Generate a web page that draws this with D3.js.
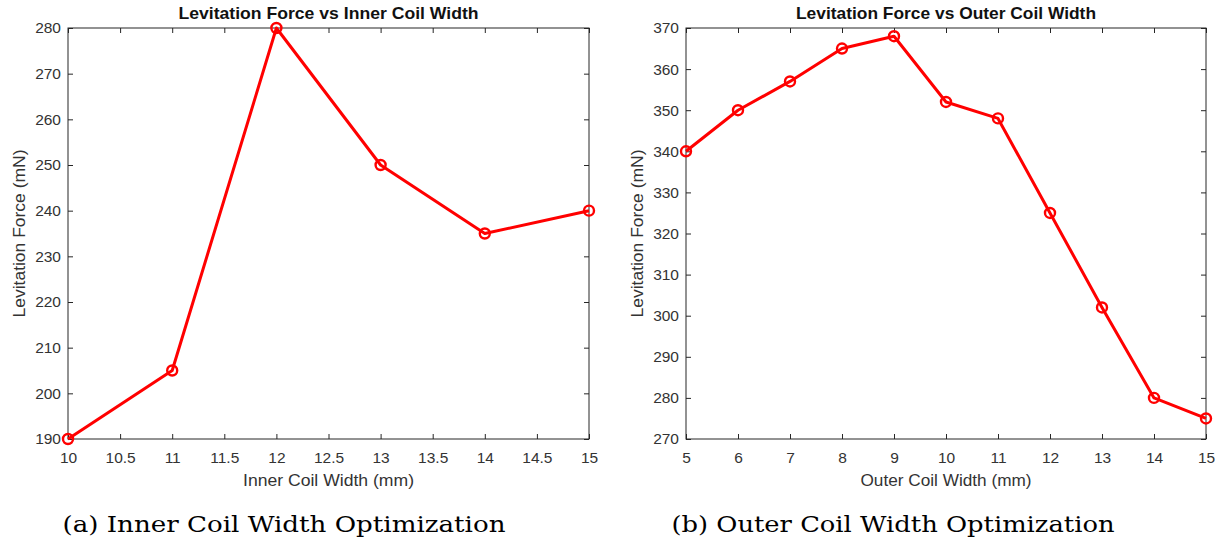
<!DOCTYPE html>
<html>
<head>
<meta charset="UTF-8">
<script src="https://d3js.org/d3.v7.min.js"></script>
<style>
  body { margin: 0; background: #fff; }
  svg { display: block; }
  .tick text { font-family: "Liberation Sans", Arial, sans-serif; font-size: 15.5px; fill: #333; }
  .lbl { font-family: "Liberation Sans", Arial, sans-serif; font-size: 16px; fill: #333; }
  .ttl { font-family: "Liberation Sans", Arial, sans-serif; font-size: 17px; font-weight: bold; fill: #111; }
  .cap { font-family: "DejaVu Serif", "Liberation Serif", serif; font-size: 21.5px; fill: #000; }
</style>
</head>
<body>
<svg id="chart" width="1225" height="547"></svg>
<script>
// inner coil sweep
const innerWidth = [10, 11, 12, 13, 14, 15];
const innerForce = [190, 205, 280, 250, 235, 240];
const innerXTicks = [10, 10.5, 11, 11.5, 12, 12.5, 13, 13.5, 14, 14.5, 15];
const innerYTicks = [190, 200, 210, 220, 230, 240, 250, 260, 270, 280];

// outer coil sweep
const outerWidth = [5, 6, 7, 8, 9, 10, 11, 12, 13, 14, 15];
const outerForce = [340, 350, 357, 365, 368, 352, 348, 325, 302, 280, 275];
const outerXTicks = [5, 6, 7, 8, 9, 10, 11, 12, 13, 14, 15];
const outerYTicks = [270, 280, 290, 300, 310, 320, 330, 340, 350, 360, 370];

const svg = d3.select("#chart");

function panel(opt) {
  const g = svg.append("g");
  const x = d3.scaleLinear().domain(opt.xDomain).range([opt.left, opt.right]);
  const y = d3.scaleLinear().domain(opt.yDomain).range([opt.bottom, opt.top]);
  const tk = 5;

  // box
  g.append("rect")
    .attr("x", opt.left).attr("y", opt.top)
    .attr("width", opt.right - opt.left).attr("height", opt.bottom - opt.top)
    .attr("fill", "none").attr("stroke", "#262626").attr("stroke-width", 1);

  // axes, ticks pointing inward
  const ax = (gen, tr) => {
    const a = g.append("g").attr("transform", tr).call(gen);
    a.select(".domain").remove();
    a.selectAll(".tick line").attr("stroke", "#262626");
    return a;
  };
  const fmt = d => String(d);
  ax(d3.axisBottom(x).tickValues(opt.xTicks).tickSize(-tk).tickPadding(13).tickFormat(fmt),
     `translate(0,${opt.bottom})`);
  ax(d3.axisTop(x).tickValues(opt.xTicks).tickSize(-tk).tickFormat(""),
     `translate(0,${opt.top})`);
  ax(d3.axisLeft(y).tickValues(opt.yTicks).tickSize(-tk).tickPadding(7).tickFormat(fmt),
     `translate(${opt.left},0)`);
  ax(d3.axisRight(y).tickValues(opt.yTicks).tickSize(-tk).tickFormat(""),
     `translate(${opt.right},0)`);

  const pts = opt.xs.map((v, i) => [v, opt.ys[i]]);
  g.append("path")
    .datum(pts)
    .attr("fill", "none").attr("stroke", "#ff0000").attr("stroke-width", 3)
    .attr("stroke-linejoin", "round")
    .attr("d", d3.line().x(d => x(d[0])).y(d => y(d[1])));
  g.selectAll("circle.m").data(pts).enter().append("circle")
    .attr("class", "m")
    .attr("cx", d => x(d[0])).attr("cy", d => y(d[1])).attr("r", 5)
    .attr("fill", "none").attr("stroke", "#ff0000").attr("stroke-width", 2.4);

  const cx = (opt.left + opt.right) / 2;
  g.append("text").attr("class", "ttl").attr("x", cx).attr("y", 19)
    .attr("text-anchor", "middle").attr("textLength", 300).attr("lengthAdjust", "spacingAndGlyphs")
    .text(opt.title);
  g.append("text").attr("class", "lbl").attr("x", cx).attr("y", 486)
    .attr("text-anchor", "middle").attr("textLength", 171).attr("lengthAdjust", "spacingAndGlyphs")
    .text(opt.xLabel);
  g.append("text").attr("class", "lbl")
    .attr("transform", `translate(${opt.left - 43},${(opt.top + opt.bottom) / 2}) rotate(-90)`)
    .attr("text-anchor", "middle").attr("textLength", 168).attr("lengthAdjust", "spacingAndGlyphs")
    .text("Levitation Force (mN)");
  g.append("text").attr("class", "cap").attr("x", opt.capX).attr("y", 532)
    .attr("text-anchor", "middle").attr("textLength", 443).attr("lengthAdjust", "spacingAndGlyphs")
    .text(opt.caption);
}

panel({
  left: 68, right: 589, top: 28, bottom: 439,
  xDomain: [10, 15], yDomain: [190, 280],
  xTicks: innerXTicks, yTicks: innerYTicks,
  xs: innerWidth, ys: innerForce,
  title: "Levitation Force vs Inner Coil Width",
  xLabel: "Inner Coil Width (mm)",
  caption: "(a) Inner Coil Width Optimization", capX: 284
});

panel({
  left: 686, right: 1206, top: 28, bottom: 439,
  xDomain: [5, 15], yDomain: [270, 370],
  xTicks: outerXTicks, yTicks: outerYTicks,
  xs: outerWidth, ys: outerForce,
  title: "Levitation Force vs Outer Coil Width",
  xLabel: "Outer Coil Width (mm)",
  caption: "(b) Outer Coil Width Optimization", capX: 893
});
</script>
</body>
</html>
